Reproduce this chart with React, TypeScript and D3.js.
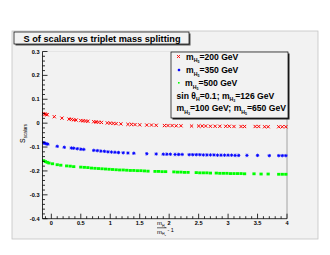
import * as d3 from "d3";

// [x, S] points
const RED_200: [number, number][] = [
  [-0.13, 0.04], [-0.11, 0.038], [-0.09, 0.036], [-0.07, 0.035], [0.05, 0.027], [0.18, 0.021],
  [0.3, 0.017], [0.34, 0.016], [0.38, 0.014], [0.42, 0.013], [0.5, 0.011], [0.54, 0.01],
  [0.58, 0.009], [0.62, 0.008], [0.72, 0.006], [0.76, 0.005], [0.8, 0.004], [0.85, 0.003],
  [0.95, 0.001], [1.0, 0.0], [1.05, -0.001], [1.1, -0.002], [1.18, -0.003], [1.3, -0.005],
  [1.36, -0.005], [1.42, -0.006], [1.5, -0.007], [1.62, -0.008], [1.7, -0.008], [1.78, -0.009],
  [1.92, -0.01], [1.98, -0.01], [2.05, -0.01], [2.12, -0.011], [2.2, -0.011], [2.38, -0.012],
  [2.5, -0.012], [2.56, -0.012], [2.62, -0.012], [2.7, -0.013], [2.78, -0.013], [2.86, -0.013],
  [2.96, -0.013], [3.02, -0.013], [3.1, -0.014], [3.22, -0.014], [3.28, -0.014], [3.46, -0.014],
  [3.52, -0.014], [3.62, -0.015], [3.68, -0.015], [3.86, -0.015], [3.92, -0.015], [3.98, -0.015],
];

const BLUE_350: [number, number][] = [
  [-0.13, -0.082], [-0.11, -0.084], [-0.09, -0.086], [-0.06, -0.088], [0.1, -0.097], [0.22, -0.101],
  [0.34, -0.104], [0.38, -0.105], [0.44, -0.107], [0.5, -0.109], [0.55, -0.11], [0.72, -0.114],
  [0.78, -0.115], [0.84, -0.117], [0.9, -0.118], [0.96, -0.12], [1.02, -0.121], [1.08, -0.122],
  [1.14, -0.123], [1.22, -0.124], [1.3, -0.125], [1.4, -0.126], [1.62, -0.128], [1.78, -0.129],
  [1.9, -0.13], [1.96, -0.13], [2.02, -0.13], [2.1, -0.131], [2.16, -0.131], [2.22, -0.131],
  [2.34, -0.132], [2.4, -0.132], [2.46, -0.132], [2.52, -0.132], [2.58, -0.133], [2.64, -0.133],
  [2.7, -0.133], [2.76, -0.133], [2.82, -0.134], [2.88, -0.134], [2.94, -0.134], [3.0, -0.134],
  [3.06, -0.134], [3.12, -0.135], [3.18, -0.135], [3.32, -0.135], [3.5, -0.135], [3.7, -0.136],
  [3.86, -0.136], [3.92, -0.136], [3.98, -0.136],
];

const GREEN_500: [number, number][] = [
  [-0.13, -0.157], [-0.1, -0.161], [-0.07, -0.164], [-0.04, -0.167], [0.02, -0.17], [0.1, -0.174],
  [0.16, -0.176], [0.26, -0.179], [0.32, -0.18], [0.38, -0.182], [0.5, -0.184], [0.56, -0.185],
  [0.62, -0.186], [0.68, -0.188], [0.74, -0.189], [0.8, -0.19], [0.86, -0.191], [0.92, -0.192],
  [0.98, -0.193], [1.04, -0.194], [1.1, -0.195], [1.16, -0.196], [1.22, -0.196], [1.28, -0.197],
  [1.34, -0.198], [1.4, -0.198], [1.46, -0.199], [1.52, -0.199], [1.58, -0.2], [1.64, -0.201],
  [1.76, -0.202], [1.82, -0.202], [1.88, -0.203], [1.94, -0.203], [2.08, -0.204], [2.14, -0.205],
  [2.2, -0.205], [2.26, -0.206], [2.32, -0.206], [2.46, -0.207], [2.52, -0.208], [2.58, -0.208],
  [2.64, -0.208], [2.7, -0.209], [2.8, -0.209], [2.86, -0.21], [2.92, -0.21], [2.98, -0.21],
  [3.04, -0.211], [3.1, -0.211], [3.16, -0.211], [3.22, -0.211], [3.28, -0.212], [3.44, -0.212],
  [3.56, -0.213], [3.68, -0.213], [3.86, -0.214], [3.92, -0.214], [3.98, -0.214],
];

const X_MAJOR = [0, 0.5, 1, 1.5, 2, 2.5, 3, 3.5, 4];
const X_LABELS = ["0", "0.5", "1", "1.5", "2", "2.5", "3", "3.5", "4"];
const Y_MAJOR = [-0.4, -0.3, -0.2, -0.1, 0, 0.1, 0.2, 0.3];
const Y_LABELS = ["-0.4", "-0.3", "-0.2", "-0.1", "0", "0.1", "0.2", "0.3"];

const TITLE = "S of scalars vs triplet mass splitting";
const FONT = "'Liberation Sans', Arial, sans-serif";

const W = 330;
const H = 255;
const frame = { left: 42.5, right: 287, top: 51.5, bottom: 218.7 };

const x = d3.scaleLinear().domain([-0.15, 4]).range([frame.left, frame.right]);
const y = d3.scaleLinear().domain([-0.4, 0.3]).range([frame.bottom, frame.top]);

const xMinor = d3.range(-1, 41).map((i) => i / 10).filter((v) => Math.round(v * 10) % 5 !== 0);
const yMinor = d3.range(-20, 16).map((i) => i / 50).filter((v) => Math.round(v * 50) % 5 !== 0);

function Cross({ cx, cy, s = 1.6 }: { cx: number; cy: number; s?: number }) {
  return (
    <path
      d={`M${cx - s},${cy - s}L${cx + s},${cy + s}M${cx - s},${cy + s}L${cx + s},${cy - s}`}
      stroke="#ff0000"
      strokeWidth={1}
    />
  );
}

function Star({ cx, cy, s = 1.7 }: { cx: number; cy: number; s?: number }) {
  return (
    <path
      d={`M${cx - s},${cy}L${cx + s},${cy}M${cx},${cy - s}L${cx},${cy + s}M${cx - s * 0.7},${cy - s * 0.7}L${cx + s * 0.7},${cy + s * 0.7}M${cx - s * 0.7},${cy + s * 0.7}L${cx + s * 0.7},${cy - s * 0.7}`}
      stroke="#0000ff"
      strokeWidth={0.9}
    />
  );
}

// "m" with subscript H_n, then the rest back on the baseline
function Mass({ sub, rest, size }: { sub: string; rest: string; size: number }) {
  return (
    <>
      <tspan fontSize={size}>m</tspan>
      <tspan dy={size * 0.3} fontSize={size * 0.6}>H</tspan>
      <tspan dy={size * 0.15} fontSize={size * 0.42}>{sub}</tspan>
      <tspan dy={-size * 0.45} fontSize={size}>{rest}</tspan>
    </>
  );
}

export default function App() {
  const fs = 8.6;
  return (
    <svg
      width={W}
      height={H}
      style={{ position: "absolute", left: 0, top: 0, background: "#fff" }}
      fontFamily={FONT}
    >
      {/* canvas */}
      <rect x={12} y={31} width={306} height={208} fill="#f2f2f2" stroke="#c4c4c4" strokeWidth={0.8} />

      {/* title box */}
      <rect x={15.5} y={33.5} width={175} height={12} fill="#555" />
      <rect x={14} y={32} width={175} height={12} fill="#f2f2f2" stroke="#000" strokeWidth={0.7} />
      <text x={102} y={41.6} textAnchor="middle" fontSize={9.6} fontWeight="bold" textLength={157} lengthAdjust="spacingAndGlyphs">
        {TITLE}
      </text>

      {/* frame */}
      <line x1={frame.right} x2={frame.right} y1={frame.top} y2={frame.bottom} stroke="#9a9a9a" strokeWidth={0.9} />
      <line x1={frame.left} x2={frame.right} y1={frame.top} y2={frame.top} stroke="#dcdcdc" strokeWidth={0.6} />

      {/* points */}
      {GREEN_500.map(([a, b], i) => (
        <rect key={`g${i}`} x={x(a) - 1.6} y={y(b) - 1.4} width={3.2} height={2.8} fill="#00ff00" />
      ))}
      {BLUE_350.map(([a, b], i) => (
        <Star key={`b${i}`} cx={x(a)} cy={y(b)} />
      ))}
      {RED_200.map(([a, b], i) => (
        <Cross key={`r${i}`} cx={x(a)} cy={y(b)} />
      ))}

      {/* axes */}
      <g stroke="#000" strokeWidth={0.8}>
        <line x1={frame.left} x2={frame.left} y1={frame.top} y2={frame.bottom} />
        <line x1={frame.left} x2={frame.right} y1={frame.bottom} y2={frame.bottom} />
        {X_MAJOR.map((v) => (
          <line key={`xm${v}`} x1={x(v)} x2={x(v)} y1={frame.bottom} y2={frame.bottom - 5} />
        ))}
        {xMinor.map((v) => (
          <line key={`xn${v}`} x1={x(v)} x2={x(v)} y1={frame.bottom} y2={frame.bottom - 2.5} />
        ))}
        {Y_MAJOR.map((v) => (
          <line key={`ym${v}`} x1={frame.left} x2={frame.left + 5} y1={y(v)} y2={y(v)} />
        ))}
        {yMinor.map((v) => (
          <line key={`yn${v}`} x1={frame.left} x2={frame.left + 2.5} y1={y(v)} y2={y(v)} />
        ))}
      </g>
      <g fontSize={5.6} fontWeight="bold">
        {X_MAJOR.map((v, i) => (
          <text key={`xl${v}`} x={x(v)} y={frame.bottom + 6.5} textAnchor="middle">
            {X_LABELS[i]}
          </text>
        ))}
        {Y_MAJOR.map((v, i) => (
          <text key={`yl${v}`} x={frame.left - 3} y={y(v) + 2} textAnchor="end">
            {Y_LABELS[i]}
          </text>
        ))}
      </g>

      {/* y title */}
      <text transform="translate(25,143) rotate(-90)" fontSize={7}>
        <tspan>S</tspan>
        <tspan dy={2} fontSize={4.5}>scalars</tspan>
      </text>

      {/* x title */}
      <g>
        <text x={157} y={225}>
          <Mass sub="5" rest="" size={6} />
        </text>
        <line x1={157} x2={166.5} y1={227.8} y2={227.8} stroke="#000" strokeWidth={0.6} />
        <text x={157} y={233.5}>
          <Mass sub="3" rest="" size={6} />
        </text>
        <text x={167.5} y={231.5} fontSize={5.5}>- 1</text>
      </g>

      {/* legend */}
      <rect x={172.5} y={53.5} width={117} height={66} fill="#222" />
      <rect x={171} y={52} width={117} height={66} fill="#f2f2f2" stroke="#000" strokeWidth={0.7} />
      <Cross cx={178.5} cy={56.5} s={1.4} />
      <Star cx={179} cy={70} s={1.4} />
      <rect x={178} y={82} width={1.6} height={1.6} fill="#00ff00" />
      <g fontWeight="bold">
        <text x={186} y={59.5}>
          <Mass sub="5" rest="=200 GeV" size={fs} />
        </text>
        <text x={186} y={73}>
          <Mass sub="5" rest="=350 GeV" size={fs} />
        </text>
        <text x={185} y={86}>
          <Mass sub="5" rest="=500 GeV" size={fs} />
        </text>
        <text x={176.5} y={98.5}>
          <tspan fontSize={fs}>sin θ</tspan>
          <tspan dy={fs * 0.3} fontSize={fs * 0.6}>H</tspan>
          <tspan dy={-fs * 0.3} fontSize={fs}>=0.1; </tspan>
          <Mass sub="3" rest="=126 GeV" size={fs} />
        </text>
        <text x={176.5} y={111}>
          <Mass sub="3" rest="=100 GeV; " size={fs} />
          <Mass sub="5" rest="=650 GeV" size={fs} />
        </text>
      </g>
    </svg>
  );
}
